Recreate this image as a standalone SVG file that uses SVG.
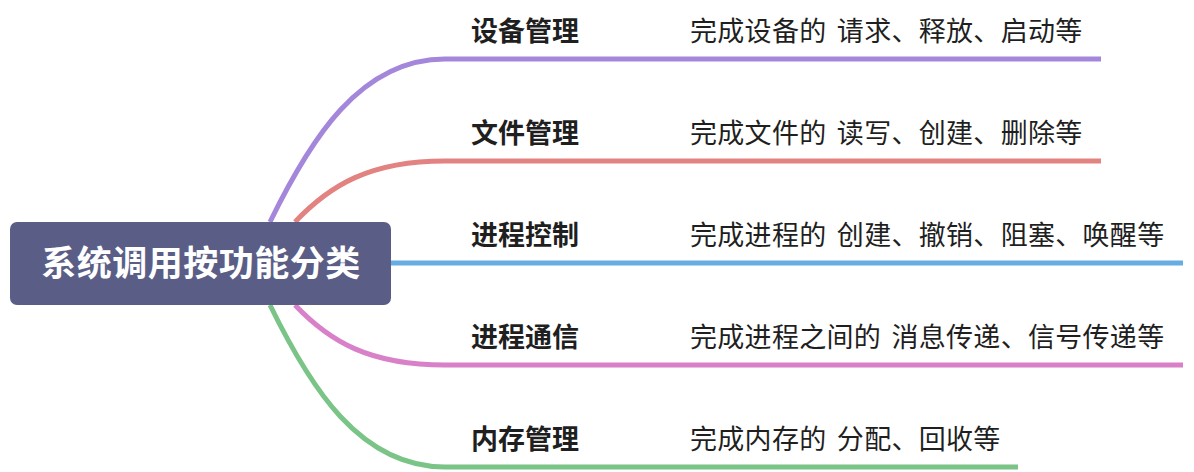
<svg xmlns="http://www.w3.org/2000/svg" width="1194" height="472" viewBox="0 0 1194 472">
<style>
.c{fill:none;stroke-width:5;stroke-linecap:butt}
.lbl{font-family:"Noto Sans CJK SC","Noto Sans",sans-serif;font-size:27px;font-weight:bold;fill:#1f1f1f}
.desc{font-family:"Noto Sans CJK SC","Noto Sans",sans-serif;font-size:27px;fill:#1f1f1f;word-spacing:4px;letter-spacing:0.3px}
.root{font-family:"Noto Sans CJK SC","Noto Sans",sans-serif;font-size:35px;font-weight:bold;fill:#ffffff;letter-spacing:0.5px}
</style>
<rect width="1194" height="472" fill="#ffffff"/>
<g id="connectors">
<path class="c" stroke="#a487db" d="M270,222 C310,140 360,59 445,59 L1101,59"/>
<path class="c" stroke="#e28381" d="M295,222 C330,185 370,161 445,161 L1101,161"/>
<path class="c" stroke="#67ade1" d="M391,263 L1183,263"/>
<path class="c" stroke="#d981c8" d="M295,305 C330,342 370,365 445,365 L1183,365"/>
<path class="c" stroke="#79c486" d="M270,305 C310,387 360,467 445,467 L1018,467"/>
</g>
<g id="root">
<rect x="10" y="222" width="381" height="83" rx="7" fill="#5a5e86"/>
<text class="root" x="201" y="276" text-anchor="middle">系统调用按功能分类</text>
</g>
<g id="n1">
<text class="lbl" x="471" y="41">设备管理</text>
<text class="desc" x="690" y="41">完成设备的 请求、释放、启动等</text>
</g>
<g id="n2">
<text class="lbl" x="471" y="143">文件管理</text>
<text class="desc" x="690" y="143">完成文件的 读写、创建、删除等</text>
</g>
<g id="n3">
<text class="lbl" x="471" y="245">进程控制</text>
<text class="desc" x="690" y="245">完成进程的 创建、撤销、阻塞、唤醒等</text>
</g>
<g id="n4">
<text class="lbl" x="471" y="347">进程通信</text>
<text class="desc" x="690" y="347">完成进程之间的 消息传递、信号传递等</text>
</g>
<g id="n5">
<text class="lbl" x="471" y="449">内存管理</text>
<text class="desc" x="690" y="449">完成内存的 分配、回收等</text>
</g>
</svg>
